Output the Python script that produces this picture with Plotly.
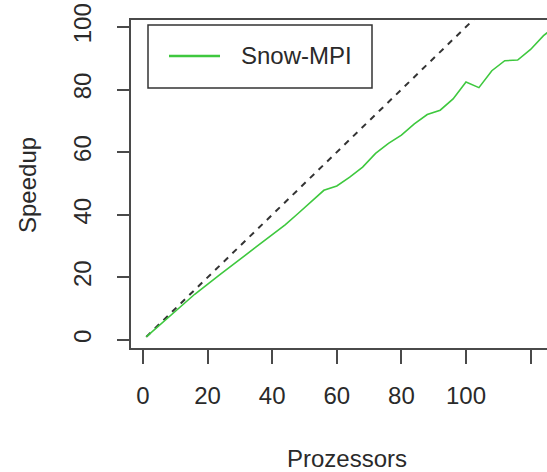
import plotly.graph_objects as go

# Data
procs = [1, 8, 16, 24, 32, 40, 44, 48, 52, 56, 60, 64, 68, 72, 76, 80,
         84, 88, 92, 96, 100, 104, 108, 112, 116, 120, 124, 128]
speedup = [1.0, 7.3, 14.6, 21.0, 27.2, 33.6, 36.8, 40.4, 44.2, 47.8, 49.2,
           52.0, 55.2, 59.6, 62.8, 65.4, 69.0, 72.0, 73.4, 77.0, 82.4, 80.6,
           86.0, 89.2, 89.4, 92.8, 97.2, 100.5]
ideal_x = [1, 128]
ideal_y = [1, 128]

x_ticks = [0, 20, 40, 60, 80, 100, 120]
x_labels = ["0", "20", "40", "60", "80", "100", ""]
y_ticks = [0, 20, 40, 60, 80, 100]
y_labels = ["0", "20", "40", "60", "80", "100"]

series_name = "Snow-MPI"
x_title = "Prozessors"
y_title = "Speedup"

FONT = "Liberation Sans, Arial, Helvetica, sans-serif"
TXT = "#2a2a2a"
AX = "#4a4a4a"
GREEN = "#3ec83e"

fig = go.Figure()
fig.add_trace(go.Scatter(x=ideal_x, y=ideal_y, mode="lines",
                         line=dict(color="#333333", width=2, dash="6px,6px"),
                         showlegend=False, hoverinfo="skip"))
fig.add_trace(go.Scatter(x=procs, y=speedup, mode="lines",
                         line=dict(color=GREEN, width=1.6),
                         name=series_name, showlegend=False))

W, H = 547, 472
L, R, T, B = 131, 0, 20, 124
pw, ph = W - L - R, H - T - B

def px(xp):
    return (xp - L) / pw

def py(yp):
    return (H - B - yp) / ph

fig.update_layout(
    width=W, height=H,
    margin=dict(l=L, r=R, t=T, b=B, pad=0),
    paper_bgcolor="white", plot_bgcolor="white",
    font=dict(family=FONT, size=24, color=TXT),
    showlegend=False,
    xaxis=dict(range=[-3.72, 125.08], tickvals=x_ticks, ticktext=x_labels,
               showgrid=False, zeroline=False, showline=True, mirror=True,
               linecolor=AX, linewidth=2, ticks="outside", ticklen=14,
               tickwidth=1.5, tickcolor=AX, ticklabelstandoff=11,
               tickfont=dict(size=24, color=TXT, family=FONT)),
    yaxis=dict(range=[-2.56, 102.2], tickvals=y_ticks, ticktext=y_labels,
               showgrid=False, zeroline=False, showline=True, mirror=False,
               linecolor=AX, linewidth=2, ticks="outside", ticklen=12,
               tickwidth=1.5, tickcolor=AX, tickangle=-90,
               ticklabelstandoff=16,
               tickfont=dict(size=24, color=TXT, family=FONT)),
)

# Legend box
fig.add_shape(type="rect", xref="paper", yref="paper",
              x0=px(148), x1=px(372), y0=py(88), y1=py(25),
              line=dict(color="#333333", width=1.5), fillcolor="white")
fig.add_shape(type="line", xref="paper", yref="paper",
              x0=px(169), x1=px(220), y0=py(56), y1=py(56),
              line=dict(color=GREEN, width=2.5))
fig.add_annotation(xref="paper", yref="paper", x=px(239), y=py(56),
                   text=series_name, showarrow=False, xanchor="left",
                   yanchor="middle", font=dict(size=24, color=TXT, family=FONT))

# Axis titles
fig.add_annotation(xref="paper", yref="paper", x=px(347), y=py(458),
                   text=x_title, showarrow=False, xanchor="center",
                   yanchor="middle", font=dict(size=24, color=TXT, family=FONT))
fig.add_annotation(xref="paper", yref="paper", x=px(27), y=py(185),
                   text=y_title, showarrow=False, textangle=-90,
                   xanchor="center", yanchor="middle",
                   font=dict(size=24, color=TXT, family=FONT))

fig.write_html("out.html")
